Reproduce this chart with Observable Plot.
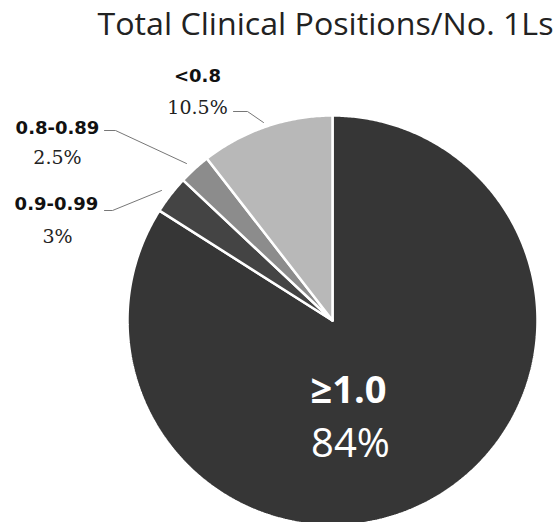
<!DOCTYPE html>
<html><head><meta charset="utf-8">
<script src="https://cdn.jsdelivr.net/npm/d3@7"></script>
<script src="https://cdn.jsdelivr.net/npm/@observablehq/plot@0.6"></script>
<style>body{margin:0;background:#fff}</style>
</head><body><div id="chart"></div>
<script>
// ---- data ----
const categories = ["≥1.0", "0.9-0.99", "0.8-0.89", "<0.8"];
const shares = [84, 3, 2.5, 10.5];
const percentLabels = ["84%", "3%", "2.5%", "10.5%"];
const chartTitle = "Total Clinical Positions/No. 1Ls";

// ---- style / layout ----
const colors = ["#363636", "#444444", "#8c8c8c", "#b8b8b8"];
const W = 558, H = 522, CX = 332, CY = 320, R = 205;
const ux = px => (px - CX) / R, uy = py => (CY - py) / R;

// label layout (pixel positions of label centres) for callouts
const layout = {
  "<0.8":     {cat: [197, 76],  pct: [197, 107], leader: [[233,111],[247,111],[263,122]]},
  "0.8-0.89": {cat: [57, 128],  pct: [57, 157],  leader: [[104,130],[115,130],[186,163]]},
  "0.9-0.99": {cat: [56, 204],  pct: [57, 236],  leader: [[104,210],[112,210],[161,190]]},
  "≥1.0":     {cat: [348, 390], pct: [350, 444], leader: null}
};

// ---- geometry from data ----
const arcs = d3.pie().sort(null).value((d, i) => shares[i])(categories);
const slices = arcs.flatMap((a, i) => {
  const pts = [{cat: categories[i], x: 0, y: 0}];
  const n = Math.max(2, Math.ceil((a.endAngle - a.startAngle) / (Math.PI / 360)));
  for (let k = 0; k <= n; k++) {
    const t = a.startAngle + (a.endAngle - a.startAngle) * k / n;
    pts.push({cat: categories[i], x: Math.sin(t), y: Math.cos(t)});
  }
  pts.push({cat: categories[i], x: 0, y: 0});
  return pts;
});

const labels = categories.map((c, i) => ({
  cat: c, pct: percentLabels[i],
  cx: ux(layout[c].cat[0]), cy: uy(layout[c].cat[1]),
  px: ux(layout[c].pct[0]), py: uy(layout[c].pct[1])
}));
const outer = labels.filter(d => d.cat !== "≥1.0");
const inner = labels.filter(d => d.cat === "≥1.0");
const leaders = categories.flatMap(c => layout[c].leader ? layout[c].leader.map(p => ({cat: c, x: ux(p[0]), y: uy(p[1])})) : []);

const chart = Plot.plot({
  width: W, height: H,
  margin: 0,
  x: {domain: [ux(0), ux(W)], axis: null},
  y: {domain: [uy(H), uy(0)], axis: null},
  color: {domain: categories, range: colors},
  style: {background: "#fff"},
  marks: [
    Plot.line(slices, {x: "x", y: "y", z: "cat", fill: "cat", stroke: "#fff", strokeWidth: 2.5, strokeLinejoin: "miter", curve: "linear"}),
    Plot.line(leaders, {x: "x", y: "y", z: "cat", stroke: "#777", strokeWidth: 1}),
    Plot.text(outer, {x: "cx", y: "cy", text: "cat", fontFamily: "DejaVu Sans", fontWeight: "bold", fontSize: 18, fill: "#111"}),
    Plot.text(outer, {x: "px", y: "py", text: "pct", fontFamily: "DejaVu Serif", fontSize: 19, fill: "#222"}),
    Plot.text(inner, {x: "cx", y: "cy", text: "cat", fontFamily: "Open Sans", fontWeight: "bold", fontSize: 38, fill: "#fff"}),
    Plot.text(inner, {x: "px", y: "py", text: "pct", fontFamily: "Open Sans", fontSize: 40, fill: "#fff"}),
    Plot.text([chartTitle], {x: ux(97), y: uy(25), text: d => d, textAnchor: "start", fontFamily: "Open Sans", fontSize: 31, fill: "#222", className: "title"})
  ]
});
document.getElementById("chart").appendChild(chart);
d3.select(chart).selectAll(".title text").attr("textLength", 456).attr("lengthAdjust", "spacingAndGlyphs");
</script>
</body></html>
